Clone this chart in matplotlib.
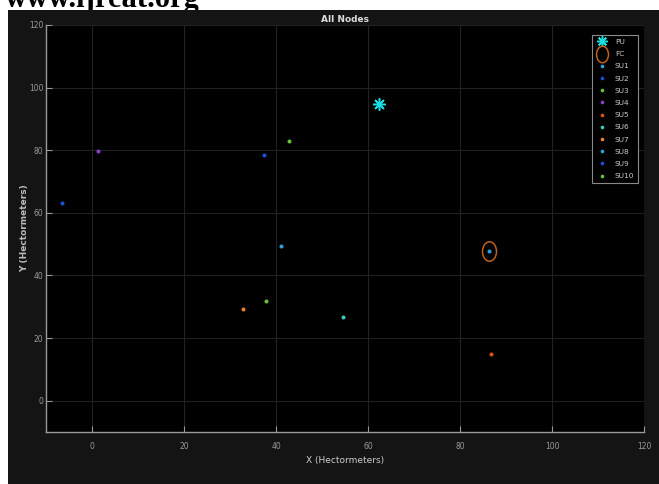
import matplotlib
matplotlib.use("Agg")
import matplotlib.pyplot as plt
from matplotlib.path import Path
from matplotlib.transforms import Affine2D
from matplotlib.patches import Rectangle

# node positions (hectometers)
pu_x, pu_y = [62.3], [94.8]
fc_x, fc_y = [86.3], [47.8]

su_names = ["SU1", "SU2", "SU3", "SU4", "SU5", "SU6", "SU7", "SU8", "SU9", "SU10"]
su_x = [86.3, -6.5, 42.8, 1.3, 86.8, 54.6, 32.9, 41.0, 37.3, 37.8]
su_y = [47.8, 63.2, 83.0, 79.8, 15.0, 26.6, 29.3, 49.3, 78.4, 31.9]
su_colors = ["#2aa2e0", "#1b50d8", "#6cc03c", "#8a40c8", "#d9531e",
             "#3cc8c0", "#e8802a", "#2aa2e0", "#1b50d8", "#6cc03c"]

x_ticks = [0, 20, 40, 60, 80, 100, 120]
y_ticks = [0, 20, 40, 60, 80, 100, 120]

fig_bg = "#141414"
tick_col = "#9a9a9a"

fig = plt.figure(figsize=(6.59, 4.84), dpi=100)
fig.patch.set_facecolor("white")
# dark matlab window behind the axes
fig.patches.append(Rectangle((8 / 659, 0), 1, 1 - 10 / 484, transform=fig.transFigure,
                             facecolor=fig_bg, edgecolor="none", zorder=-5))
fig.text(5 / 659, 1 - 7 / 484, "www.ijreat.org", family="Liberation Serif",
         fontweight="bold", fontsize=22, color="black", ha="left", va="baseline", zorder=-6)

ax = fig.add_axes([46 / 659, 1 - 432 / 484, 598 / 659, 407 / 484])
ax.set_zorder(2)
ax.set_facecolor("black")

ax.plot(pu_x, pu_y, linestyle="none", marker=(8, 2, 0), markersize=9,
        markeredgewidth=1.1, color="#19e0e0", label="PU")
ellipse = Path.unit_circle().transformed(Affine2D().scale(0.72, 1.0))
ax.plot(fc_x, fc_y, linestyle="none", marker=ellipse, markersize=14,
        markerfacecolor="none", markeredgecolor="#c0621c", markeredgewidth=1.1, label="FC")
for name, x, y, c in zip(su_names, su_x, su_y, su_colors):
    ax.plot([x], [y], linestyle="none", marker="o", markersize=1.9, color=c, label=name)

ax.set_xlim(-10, 120)
ax.set_ylim(-10, 120)
ax.set_xticks(x_ticks)
ax.set_yticks(y_ticks)
ax.grid(True, color="#222222", linewidth=0.8)
ax.set_axisbelow(True)

for side in ["top", "right"]:
    ax.spines[side].set_visible(False)
for side in ["left", "bottom"]:
    ax.spines[side].set_color(tick_col)
    ax.spines[side].set_linewidth(1.0)
ax.tick_params(direction="in", length=4, width=0.8, colors=tick_col, labelsize=5.5)
ax.tick_params(axis="y", pad=2)
ax.tick_params(axis="x", pad=7)

ax.set_title("All Nodes", color="#dddddd", fontsize=6.5, fontweight="bold", pad=2)
ax.set_xlabel("X (Hectormeters)", color="#cccccc", fontsize=6.5, labelpad=4)
ax.set_ylabel("Y (Hectormeters)", color="#bbbbbb", fontsize=6.5, labelpad=0,
              fontweight="bold")

leg = ax.legend(loc="upper right", bbox_to_anchor=(0.99, 0.975), borderaxespad=0,
                fontsize=5.3, facecolor="black", edgecolor="#8a8a8a", labelcolor="#cccccc",
                handlelength=1.8, borderpad=0.5, labelspacing=0.82, fancybox=False,
                framealpha=1, markerscale=0.85)
leg.get_frame().set_linewidth(0.8)

fig.savefig("out.png", dpi=100, facecolor=fig.get_facecolor())
